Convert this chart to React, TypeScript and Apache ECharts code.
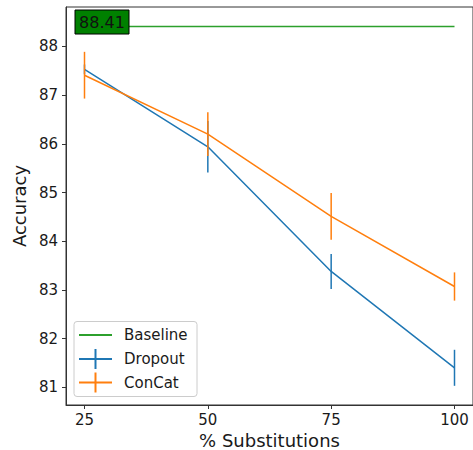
import React, { useEffect, useRef } from "react";
import * as echarts from "echarts";

const xValues = [25, 50, 75, 100];
const xTicks = [25, 50, 75, 100];
const yTicks = [81, 82, 83, 84, 85, 86, 87, 88];
const dropoutMean = [87.53, 85.94, 83.38, 81.4];
const dropoutErr = [0.1, 0.53, 0.36, 0.37];
const concatMean = [87.41, 86.2, 84.51, 83.07];
const concatErr = [0.48, 0.45, 0.48, 0.29];
const baselineValue = 88.41;
const seriesNames = ["Baseline", "Dropout", "ConCat"];

const GREEN = "#2ca02c";
const BLUE = "#1f77b4";
const ORANGE = "#ff7f0e";
const FONT = "DejaVu Sans";

function errData(mean: number[], err: number[]) {
  return xValues.map((x, i) => [x, mean[i] - err[i], mean[i] + err[i]]);
}

function errSeries(name: string, mean: number[], err: number[], color: string, z: number) {
  return {
    type: "custom",
    name,
    z,
    data: errData(mean, err),
    encode: { x: 0, y: [1, 2] },
    renderItem: (params: any, api: any) => {
      const x = api.value(0);
      const p1 = api.coord([x, api.value(1)]);
      const p2 = api.coord([x, api.value(2)]);
      return {
        type: "line",
        shape: { x1: p1[0], y1: p1[1], x2: p2[0], y2: p2[1] },
        style: { stroke: color, lineWidth: 1.5 },
      };
    },
  };
}

export default function App() {
  const ref = useRef<HTMLDivElement>(null);
  useEffect(() => {
    document.body.style.margin = "0";
    if (!ref.current) return;
    const chart = echarts.init(ref.current, undefined, { renderer: "svg" });
    chart.setOption({
      animation: false,
      backgroundColor: "#ffffff",
      textStyle: { fontFamily: FONT },
      grid: {
        left: 66,
        right: 0,
        top: 7,
        bottom: 45,
        containLabel: false,
        outerBoundsMode: "none",
        show: true,
        borderColor: "#333333",
        borderWidth: 1,
        backgroundColor: "transparent",
      },
      xAxis: {
        type: "value",
        min: 21.25,
        max: 103.75,
        name: "% Substitutions",
        nameLocation: "middle",
        nameGap: 23,
        nameTextStyle: { fontSize: 18, color: "#1a1a1a", fontFamily: FONT },
        axisLine: { show: true, lineStyle: { color: "#333333", width: 1 } },
        axisTick: { show: true, length: 4, customValues: xTicks, lineStyle: { color: "#333333" } },
        axisLabel: { customValues: xTicks, fontSize: 15, color: "#1a1a1a", margin: 7, fontFamily: FONT },
        splitLine: { show: false },
      },
      yAxis: {
        type: "value",
        min: 80.636,
        max: 88.811,
        name: "Accuracy",
        nameLocation: "middle",
        nameGap: 31,
        nameTextStyle: { fontSize: 18, color: "#1a1a1a", fontFamily: FONT },
        axisLine: { show: true, lineStyle: { color: "#333333", width: 1 } },
        axisTick: { show: true, length: 4, customValues: yTicks, lineStyle: { color: "#333333" } },
        axisLabel: { customValues: yTicks, fontSize: 15, color: "#1a1a1a", margin: 8, fontFamily: FONT },
        splitLine: { show: false },
      },
      series: [
        {
          type: "line",
          name: seriesNames[0],
          z: 3,
          data: [
            [xValues[0], baselineValue],
            [xValues[xValues.length - 1], baselineValue],
          ],
          symbol: "none",
          lineStyle: { color: GREEN, width: 1.5 },
        },
        {
          type: "line",
          name: seriesNames[1],
          z: 4,
          data: xValues.map((x, i) => [x, dropoutMean[i]]),
          symbol: "none",
          lineStyle: { color: BLUE, width: 1.5 },
        },
        errSeries("DropoutErr", dropoutMean, dropoutErr, BLUE, 5),
        {
          type: "line",
          name: seriesNames[2],
          z: 6,
          data: xValues.map((x, i) => [x, concatMean[i]]),
          symbol: "none",
          lineStyle: { color: ORANGE, width: 1.5 },
        },
        errSeries("ConCatErr", concatMean, concatErr, ORANGE, 7),
      ],
    });

    const [px, py] = chart.convertToPixel({ gridIndex: 0 }, [xValues[0], baselineValue]) as number[];

    const lx = 74;
    const ly = 321.5;
    const entryY = [335, 359, 382.5];
    const colors = [GREEN, BLUE, ORANGE];
    const legendChildren: any[] = [
      {
        type: "rect",
        shape: { x: lx, y: ly, width: 123, height: 75, r: 3 },
        style: { fill: "rgba(255,255,255,0.8)", stroke: "#cccccc", lineWidth: 1 },
      },
    ];
    seriesNames.forEach((n, i) => {
      legendChildren.push({
        type: "line",
        shape: { x1: 79, y1: entryY[i], x2: 112, y2: entryY[i] },
        style: { stroke: colors[i], lineWidth: 2 },
      });
      if (i > 0) {
        legendChildren.push({
          type: "line",
          shape: { x1: 95.5, y1: entryY[i] - 10, x2: 95.5, y2: entryY[i] + 10 },
          style: { stroke: colors[i], lineWidth: 2 },
        });
      }
      legendChildren.push({
        type: "text",
        x: 124,
        y: entryY[i],
        style: {
          text: n,
          font: `15px "${FONT}"`,
          fill: "#1a1a1a",
          textVerticalAlign: "middle",
          textAlign: "left",
        },
      });
    });

    chart.setOption({
      graphic: [
        {
          type: "rect",
          z: 10,
          shape: { x: px - 9.5, y: py - 16.5, width: 54, height: 24 },
          style: { fill: "#008000", stroke: "#000000", lineWidth: 1 },
        },
        {
          type: "text",
          z: 11,
          x: px + 17.5,
          y: py - 4.5,
          style: {
            text: baselineValue.toFixed(2),
            font: `16px "${FONT}"`,
            fill: "#111111",
            textAlign: "center",
            textVerticalAlign: "middle",
          },
        },
        { type: "group", z: 12, children: legendChildren },
      ],
    });

    return () => chart.dispose();
  }, []);
  return <div ref={ref} style={{ width: 473, height: 450 }} />;
}
